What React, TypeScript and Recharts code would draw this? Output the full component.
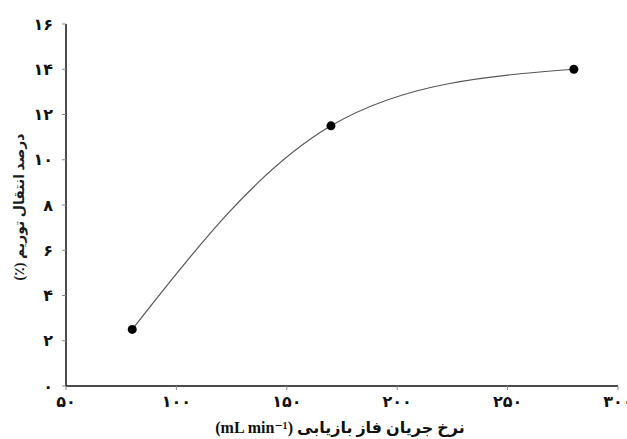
import React from "react";
import { LineChart, Line, XAxis, YAxis } from "recharts";

const flowRates = [80, 170, 280];
const transferPercent = [2.5, 11.5, 14.0];
const xTicks = [50, 100, 150, 200, 250, 300];
const yTicks = [0, 2, 4, 6, 8, 10, 12, 14, 16];

const data = flowRates.map((x, i) => ({ x, y: transferPercent[i] }));

const faDigits = "۰۱۲۳۴۵۶۷۸۹";
const toFa = (v: number) => String(v).replace(/\d/g, (d) => faDigits[Number(d)]);

const fontStack = "'Liberation Serif', 'DejaVu Sans', serif";

const XTitle = () => (
  <text x={340} y={433} textAnchor="middle" direction="rtl" fontFamily={fontStack} fontWeight="bold" fontSize={16} fill="#111">
    نرخ جریان فاز بازیابی (mL min⁻¹)
  </text>
);

const YTitle = () => (
  <text x={24} y={207} transform="rotate(-90 24 207)" textAnchor="middle" direction="rtl" fontFamily={fontStack} fontWeight="bold" fontSize={14} fill="#1a1a1a">
    درصد انتقال توریم (٪)
  </text>
);

export default function App() {
  return (
    <div style={{ position: "absolute", left: 0, top: 0, background: "#fff" }}>
      <LineChart width={627} height={439} data={data} margin={{ top: 24, right: 9, bottom: 23, left: 6 }}>
        <XAxis dataKey="x" type="number" domain={[50, 300]} ticks={xTicks} tickFormatter={toFa} interval={0}
          axisLine={{ stroke: "#111", strokeWidth: 1.5 }} tickLine={{ stroke: "#888" }} tickSize={4} tickMargin={6}
          height={30} tick={{ fill: "#111", fontSize: 16, fontWeight: "bold", fontFamily: fontStack }} />
        <XAxis xAxisId="top" orientation="top" dataKey="x" type="number" domain={[50, 300]} height={0}
          tick={false} tickLine={false} axisLine={{ stroke: "#111", strokeWidth: 1.5 }} />
        <YAxis type="number" domain={[0, 16]} ticks={yTicks} tickFormatter={toFa} interval={0} width={60}
          axisLine={{ stroke: "#111", strokeWidth: 1.5 }} tickLine={{ stroke: "#888" }} tickSize={4} tickMargin={9}
          tick={{ fill: "#111", fontSize: 16, fontWeight: "bold", fontFamily: fontStack }} />
        <YAxis yAxisId="right" orientation="right" type="number" domain={[0, 16]} width={0}
          tick={false} tickLine={false} axisLine={{ stroke: "#111", strokeWidth: 1.5 }} />
        <Line dataKey="y" type="natural" stroke="#555" strokeWidth={1.2} isAnimationActive={false}
          dot={{ r: 4.5, fill: "#000", stroke: "#000", strokeWidth: 0 }} activeDot={false} />
        <XTitle />
        <YTitle />
      </LineChart>
    </div>
  );
}
